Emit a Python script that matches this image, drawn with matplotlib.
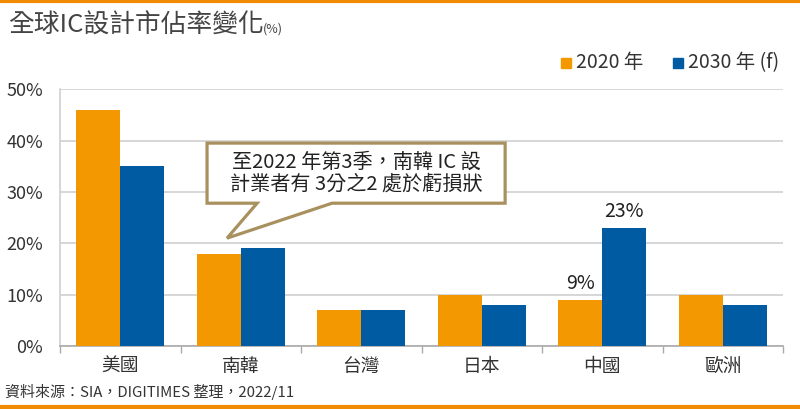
import matplotlib
matplotlib.use("Agg")
import matplotlib.pyplot as plt
from matplotlib.patches import Polygon, Rectangle
from matplotlib.lines import Line2D
import numpy as np

plt.rcParams['font.family'] = ['Noto Sans CJK TC', 'DejaVu Sans']

# data
regions = ['美國', '南韓', '台灣', '日本', '中國', '歐洲']
share_2020 = [46, 18, 7, 10, 9, 10]
share_2030 = [35, 19, 7, 8, 23, 8]
series_names = ['2020 年', '2030 年 (f)']
y_ticks = [0, 10, 20, 30, 40, 50]

orange = '#F39800'
blue = '#005BA3'
text_c = '#333333'
grid_c = '#D0D0D0'

fig = plt.figure(figsize=(8, 4.09), dpi=100)
ax = fig.add_axes([0.075, 0.154, 0.904, 0.628])

x = np.arange(len(regions))
w = 0.365
ax.bar(x - w / 2, share_2020, w, color=orange, zorder=3)
ax.bar(x + w / 2, share_2030, w, color=blue, zorder=3)

ax.set_xlim(-0.5, len(regions) - 0.5)
ax.set_ylim(0, 50)
ax.set_yticks(y_ticks)
ax.set_yticklabels([f'{v}%' for v in y_ticks], fontsize=13, color=text_c)
ax.yaxis.grid(True, color=grid_c, linewidth=1.2, zorder=0)
ax.tick_params(axis='y', length=0, pad=12)

ax.set_xticks(x)
ax.set_xticklabels(regions, fontsize=13.5, color=text_c)
ax.tick_params(axis='x', length=0, pad=7)
ax.set_xticks(np.arange(-0.5, len(regions)), minor=True)
ax.tick_params(axis='x', which='minor', length=5, color='#AAAAAA', width=1)

for s in ['top', 'right']:
    ax.spines[s].set_visible(False)
ax.spines['left'].set_color(grid_c)
ax.spines['bottom'].set_color('#AAAAAA')
ax.spines['left'].set_linewidth(1.2)
ax.spines['bottom'].set_linewidth(1.2)

# value labels for China
ax.text(x[4] - w / 2, share_2020[4] + 1.2, f'{share_2020[4]}%', ha='center', va='bottom',
        fontsize=14, color='#222222')
ax.text(x[4] + w / 2, share_2030[4] + 1.2, f'{share_2030[4]}%', ha='center', va='bottom',
        fontsize=14, color='#222222')

# callout box
callout = [(0.72, 39.5), (3.193, 39.5), (3.193, 27.8), (1.757, 27.8),
           (0.886, 21.0), (1.135, 27.8), (0.72, 27.8)]
ax.add_patch(Polygon(callout, closed=True, facecolor='white', edgecolor='#A8915F',
                     linewidth=2.3, zorder=5, joinstyle='miter'))
ax.text(1.956, 33.65, '至2022 年第3季，南韓 IC 設\n計業者有 3分之2 處於虧損狀',
        ha='center', va='center', fontsize=14.5, color='#222222', zorder=6,
        linespacing=1.1)

# title
fig.text(0.01, 0.938, '全球IC設計市佔率變化', fontsize=18.5, color='#444444', va='center')
fig.text(0.328, 0.93, '(%)', fontsize=9, color='#444444', va='center')

# legend (drawn by hand to match positions)
for i, (name, col) in enumerate(zip(series_names, [orange, blue])):
    x0 = [0.701, 0.841][i]
    fig.add_artist(Rectangle((x0, 0.834), 0.0125, 0.0245, color=col,
                             transform=fig.transFigure))
    fig.text(x0 + 0.019, 0.846, name, fontsize=14, color=text_c, va='center')

# footer
fig.text(0.006, 0.041, '資料來源：SIA，DIGITIMES 整理，2022/11', fontsize=10.8,
         color=text_c, va='center')

# orange rules top and bottom
fig.add_artist(Line2D([0, 1], [0.997, 0.997], color='#F08A00', linewidth=3,
                      transform=fig.transFigure))
fig.add_artist(Line2D([0, 1], [0.004, 0.004], color='#F08A00', linewidth=3,
                      transform=fig.transFigure))

fig.savefig('out.png', dpi=100)
